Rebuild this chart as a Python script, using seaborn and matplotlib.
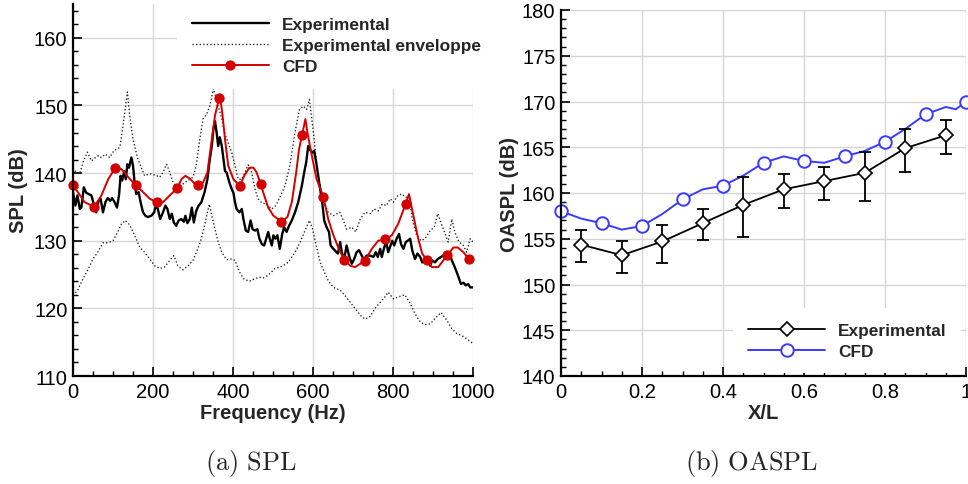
import numpy as np
import pandas as pd
import seaborn as sns
import matplotlib
matplotlib.use("Agg")
import matplotlib.pyplot as plt
from matplotlib.lines import Line2D
from matplotlib.ticker import MultipleLocator

# ---------------- data: (a) SPL spectrum ----------------
exp_freq = [0, 6, 11, 17, 21, 27, 33, 39, 46, 53, 58, 64, 69, 75, 81, 87, 93, 98, 104, 110,
            115, 119, 123, 128, 132, 136, 140, 146, 150, 154, 158, 164, 169, 175, 181, 187, 196, 203, 208, 212,
            218, 225, 231, 236, 242, 247, 252, 258, 264, 271, 277, 281, 286, 292, 297, 302, 308, 314, 321, 329,
            336, 341, 347, 351, 355, 359, 363, 367, 372, 376, 380, 384, 391, 397, 401, 405, 409, 416, 422, 426,
            432, 438, 444, 449, 455, 461, 466, 472, 478, 483, 488, 492, 497, 501, 506, 511, 517, 523, 528, 534,
            540, 547, 555, 563, 572, 578, 583, 588, 592, 598, 603, 608, 613, 619, 624, 628, 634, 640, 644, 651,
            659, 662, 668, 672, 678, 684, 690, 697, 703, 709, 715, 722, 728, 734, 743, 751, 757, 762, 768, 772,
            778, 783, 788, 794, 798, 803, 809, 815, 820, 826, 832, 837, 843, 848, 855, 861, 868, 873, 880, 887,
            893, 898, 905, 912, 920, 926, 932, 937, 943, 947, 953, 959, 965, 970, 976, 982, 988, 993, 1000]
exp_spl = [137.2, 135.2, 136.7, 134.7, 134.9, 137.9, 137.1, 136.9, 136.7, 135.2, 134.2, 135.9, 136.2, 134.2, 135.7, 136.3, 135.9, 136.3, 135.7, 134.9,
           136.7, 139.6, 138.9, 140.3, 139.1, 141.3, 140.8, 142.3, 141.1, 138.6, 136.9, 137.2, 135.7, 134.2, 133.7, 133.5, 133.7, 134.2, 135.4, 134.7,
           133.2, 134.2, 135.2, 134.7, 133.2, 134.0, 132.7, 132.2, 133.0, 133.2, 132.8, 133.7, 132.6, 133.2, 134.9, 132.7, 134.4, 135.2, 135.7, 137.2,
           139.1, 141.6, 144.0, 146.5, 147.7, 146.0, 144.0, 145.3, 144.0, 142.1, 140.3, 140.1, 138.6, 137.6, 137.1, 135.7, 134.7, 134.2, 134.7, 133.2,
           131.5, 131.3, 133.0, 131.7, 131.5, 131.7, 130.3, 129.5, 129.3, 130.3, 131.3, 130.3, 129.3, 130.8, 130.3, 130.8, 128.8, 131.0, 132.0, 131.3,
           132.2, 133.0, 134.2, 135.7, 138.1, 140.1, 141.6, 144.0, 143.5, 143.0, 143.3, 141.6, 139.6, 137.2, 135.2, 133.0, 132.0, 131.3, 129.3, 128.8,
           128.3, 128.1, 129.8, 128.3, 127.3, 129.3, 127.8, 126.6, 127.3, 128.3, 128.6, 127.8, 127.1, 127.8, 127.8, 127.6, 128.3, 127.6, 128.8, 127.6,
           129.0, 129.8, 128.3, 129.3, 130.0, 129.3, 130.3, 131.0, 129.5, 128.8, 129.8, 130.0, 130.3, 128.6, 127.3, 128.1, 127.6, 126.8, 126.9, 127.3,
           126.3, 127.1, 126.8, 127.3, 127.6, 127.8, 127.3, 128.3, 127.8, 127.1, 126.3, 125.4, 124.4, 123.6, 123.8, 123.4, 123.6, 123.1, 123.1]

env_hi_freq = [0, 8, 17, 25, 36, 46, 54, 64, 71, 81, 92, 102, 117, 125, 136, 141, 150, 162, 179, 192,
               206, 217, 225, 234, 242, 250, 262, 275, 287, 300, 308, 317, 325, 334, 342, 351, 363, 372, 380, 388,
               397, 405, 413, 422, 430, 438, 447, 455, 463, 472, 484, 497, 507, 517, 530, 542, 555, 566, 576, 584,
               591, 597, 603, 609, 618, 626, 638, 651, 667, 676, 684, 697, 707, 718, 730, 743, 753, 763, 773, 784,
               793, 801, 812, 822, 832, 840, 848, 859, 870, 880, 893, 903, 912, 922, 932, 938, 947, 955, 965, 976,
               984, 993, 1000]
env_hi_spl = [140.8, 140.1, 139.9, 141.6, 143.1, 141.8, 142.2, 142.6, 142.3, 142.8, 142.3, 143.3, 143.8, 147.0, 152.0, 148.9, 145.0, 142.1, 139.6, 139.9,
              139.7, 139.4, 140.1, 141.3, 140.1, 138.6, 137.9, 138.4, 138.9, 139.4, 141.1, 145.0, 148.0, 148.7, 149.9, 152.5, 149.9, 148.0, 145.7, 144.5,
              143.0, 141.1, 139.1, 139.1, 140.1, 141.2, 140.1, 137.6, 136.2, 135.6, 135.4, 134.7, 135.2, 136.4, 138.1, 141.1, 146.0, 149.4, 149.9, 149.4,
              150.9, 148.0, 145.0, 141.1, 138.1, 135.7, 134.2, 133.7, 134.2, 133.0, 131.7, 132.0, 131.3, 133.2, 134.2, 134.0, 134.7, 134.4, 135.4, 135.2,
              136.2, 135.7, 136.7, 136.9, 136.4, 136.7, 133.2, 130.8, 130.0, 130.3, 131.5, 132.0, 134.0, 132.3, 130.8, 129.8, 133.2, 131.2, 129.8, 129.3,
              128.3, 130.3, 129.8]

env_lo_freq = [0, 12, 25, 38, 50, 62, 75, 88, 100, 112, 121, 131, 142, 154, 167, 179, 192, 204, 217, 229,
               242, 252, 262, 275, 288, 300, 312, 321, 329, 336, 341, 347, 355, 363, 372, 384, 397, 405, 416, 426,
               441, 455, 466, 476, 488, 505, 522, 538, 555, 568, 580, 591, 599, 608, 618, 628, 638, 651, 668, 680,
               693, 705, 718, 730, 743, 755, 768, 780, 788, 801, 813, 830, 843, 855, 868, 880, 893, 905, 920, 934,
               947, 959, 972, 984, 1000]
env_lo_spl = [121.9, 122.7, 124.4, 125.8, 127.3, 128.3, 129.7, 129.7, 130.0, 131.3, 132.5, 133.0, 132.3, 130.8, 129.0, 128.3, 127.3, 126.3, 125.9, 126.1,
              127.1, 127.8, 126.3, 125.7, 126.3, 127.1, 128.8, 130.3, 132.3, 134.2, 135.4, 133.7, 131.7, 129.8, 128.3, 127.2, 127.3, 127.1, 125.4, 124.4,
              124.0, 124.4, 124.6, 124.5, 124.9, 125.9, 126.2, 126.8, 128.3, 129.8, 131.5, 133.0, 131.7, 129.3, 126.8, 125.4, 124.1, 123.1, 122.7, 121.9,
              120.9, 120.0, 119.0, 118.4, 118.8, 120.0, 120.9, 121.7, 122.4, 121.4, 121.7, 122.0, 120.7, 119.2, 118.0, 117.6, 117.7, 118.5, 119.4, 118.3,
              117.0, 116.3, 116.0, 115.5, 114.8]

cfd_freq = [0, 12, 29, 53, 71, 88, 105, 121, 138, 157, 175, 192, 209, 225, 242, 261, 271, 281, 292, 303,
            312, 325, 336, 347, 355, 365, 369, 374, 380, 388, 401, 417, 428, 441, 451, 459, 469, 478, 488, 501,
            521, 536, 547, 558, 565, 573, 581, 586, 597, 609, 626, 638, 651, 666, 678, 693, 705, 729, 747, 763,
            780, 797, 813, 832, 840, 851, 863, 873, 884, 897, 913, 926, 936, 951, 962, 976, 989, 997]
cfd_spl = [138.2, 137.2, 135.7, 135.0, 136.7, 139.1, 140.7, 140.6, 139.4, 138.2, 137.2, 136.2, 135.7, 135.7, 136.7, 137.8, 139.1, 139.6, 139.2, 138.5,
           138.2, 138.6, 140.1, 145.0, 148.5, 151.05, 150.7, 148.5, 145.0, 141.1, 139.1, 138.1, 139.6, 140.8, 140.8, 140.1, 138.4, 136.7, 134.9, 133.7,
           132.8, 133.5, 135.7, 140.1, 143.5, 145.7, 148.0, 146.0, 142.6, 139.1, 136.5, 133.2, 130.8, 128.6, 127.2, 126.3, 126.1, 127.0, 128.8, 130.0,
           130.2, 130.8, 132.5, 135.5, 136.9, 133.7, 130.3, 128.1, 127.2, 126.1, 126.1, 127.1, 127.85, 129.0, 129.0, 128.3, 127.35, 127.1]

cfd_mark_freq = [0, 53, 105, 157, 209, 261, 312, 365, 417, 469, 521, 573, 626, 678, 729, 780, 832, 884, 936, 989]
cfd_mark_spl = [138.2, 135.0, 140.7, 138.2, 135.7, 137.8, 138.2, 151.05, 138.1, 138.4, 132.8, 145.7, 136.5, 127.2, 127.0, 130.2, 135.5, 127.2, 127.85, 127.35]

# ---------------- data: (b) OASPL ----------------
oa_exp_x = [0.05, 0.15, 0.25, 0.35, 0.45, 0.55, 0.65, 0.75, 0.85, 0.95]
oa_exp = [154.35, 153.2, 154.7, 156.7, 158.7, 160.4, 161.3, 162.2, 164.9, 166.3]
oa_exp_hi = [156.0, 154.8, 156.5, 158.25, 161.7, 162.1, 162.8, 164.5, 167.0, 168.0]
oa_exp_lo = [152.5, 151.3, 152.4, 154.9, 155.2, 158.4, 159.2, 159.1, 162.3, 164.3]

oa_cfd_line_x = [0, 0.05, 0.1, 0.15, 0.2, 0.25, 0.3, 0.35, 0.4, 0.45, 0.5, 0.55, 0.6, 0.65, 0.7,
                 0.75, 0.8, 0.85, 0.9, 0.95, 0.975, 1.0]
oa_cfd_line = [158.0, 157.2, 156.7, 156.0, 156.4, 157.7, 159.3, 160.4, 160.8, 161.9, 163.3, 164.0, 163.5, 163.3, 164.0,
               164.6, 165.6, 167.0, 168.6, 169.4, 169.15, 170.0]
oa_cfd_x = [0, 0.1, 0.2, 0.3, 0.4, 0.5, 0.6, 0.7, 0.8, 0.9, 1.0]
oa_cfd = [158.0, 156.7, 156.4, 159.3, 160.8, 163.3, 163.5, 164.0, 165.6, 168.6, 170.0]

oa_xticks = [0, 0.2, 0.4, 0.6, 0.8, 1.0]
oa_xticklabels = ["0", "0.2", "0.4", "0.6", "0.8", "1"]

# ---------------- styling ----------------
sns.set_theme(style="white")
plt.rcParams["font.family"] = ["Liberation Sans", "DejaVu Sans"]
plt.rcParams["mathtext.fontset"] = "cm"

RED = "#d40000"
BLUE = "#3a3aff"
GRID = "#d6d6d6"
TICK_FS = 14.5
LAB_FS = 14.5
LEG_FS = 12.4

fig = plt.figure(figsize=(9.68, 4.85), dpi=100)
ax1 = fig.add_axes([73 / 968, 1 - 377 / 485, 400 / 968, 372 / 485])
ax2 = fig.add_axes([561 / 968, 1 - 377 / 485, 405 / 968, 366 / 485])


def style_axes(ax):
    ax.set_facecolor("white")
    for s in ["top", "right"]:
        ax.spines[s].set_visible(False)
    for s in ["left", "bottom"]:
        ax.spines[s].set_visible(True)
        ax.spines[s].set_color("black")
        ax.spines[s].set_linewidth(1.6)
        ax.spines[s].set_zorder(5)
    ax.tick_params(which="both", direction="in", left=True, bottom=True, top=False, right=False,
                   colors="black")
    ax.tick_params(which="major", length=6.5, width=1.2, labelsize=TICK_FS, pad=4)
    ax.tick_params(which="minor", length=3.5, width=1.0)
    ax.grid(True, which="major", color=GRID, linewidth=1.0)
    ax.grid(False, which="minor")
    ax.set_axisbelow(True)


# ---- panel (a)
style_axes(ax1)
sns.lineplot(x=env_hi_freq, y=env_hi_spl, ax=ax1, color="#1a1a1a", linewidth=0.95,
             linestyle=(0, (1, 1.7)), sort=False, estimator=None, legend=False)
sns.lineplot(x=env_lo_freq, y=env_lo_spl, ax=ax1, color="#1a1a1a", linewidth=0.95,
             linestyle=(0, (1, 1.7)), sort=False, estimator=None, legend=False)
sns.lineplot(x=exp_freq, y=exp_spl, ax=ax1, color="black", linewidth=1.7,
             sort=False, estimator=None, legend=False)
sns.lineplot(x=cfd_freq, y=cfd_spl, ax=ax1, color=RED, linewidth=1.4,
             sort=False, estimator=None, legend=False)
ax1.plot(cfd_mark_freq, cfd_mark_spl, linestyle="none", marker="o", markersize=6.4,
         color=RED, markeredgecolor=RED, clip_on=False, zorder=4)

ax1.set_xlim(0, 1000)
ax1.set_ylim(110, 165)
ax1.xaxis.set_major_locator(MultipleLocator(200))
ax1.xaxis.set_minor_locator(MultipleLocator(50))
ax1.yaxis.set_major_locator(MultipleLocator(10))
ax1.yaxis.set_minor_locator(MultipleLocator(2))
ax1.set_xlabel("Frequency (Hz)", fontsize=LAB_FS, fontweight="bold", labelpad=2)
ax1.set_ylabel("SPL (dB)", fontsize=LAB_FS, fontweight="bold", labelpad=4)

h1 = [Line2D([], [], color="black", lw=1.7),
      Line2D([], [], color="#1a1a1a", lw=0.95, ls=(0, (1, 1.7))),
      Line2D([], [], color=RED, lw=1.4, marker="o", markersize=6.4)]
leg1 = ax1.legend(h1, ["Experimental", "Experimental enveloppe", "CFD"], loc="upper left",
                  bbox_to_anchor=(0.26, 1.004), frameon=True, facecolor="white", edgecolor="none",
                  framealpha=1, fancybox=False, borderpad=0.85, handlelength=4.5,
                  handletextpad=0.75, labelspacing=0.35, borderaxespad=0,
                  prop={"weight": "bold", "size": LEG_FS})
leg1.set_zorder(10)

# ---- panel (b)
style_axes(ax2)
yerr = [np.array(oa_exp) - np.array(oa_exp_lo), np.array(oa_exp_hi) - np.array(oa_exp)]
ax2.errorbar(oa_exp_x, oa_exp, yerr=yerr, fmt="none", ecolor="black", elinewidth=1.3,
             capsize=4.2, capthick=1.3, zorder=3)
sns.lineplot(x=oa_exp_x, y=oa_exp, ax=ax2, color="black", linewidth=1.3,
             sort=False, estimator=None, legend=False)
ax2.plot(oa_exp_x, oa_exp, linestyle="none", marker="D", markersize=7, markerfacecolor="white",
         markeredgecolor="black", markeredgewidth=1.2, zorder=4)
sns.lineplot(x=oa_cfd_line_x, y=oa_cfd_line, ax=ax2, color=BLUE, linewidth=1.4,
             sort=False, estimator=None, legend=False)
ax2.plot(oa_cfd_x, oa_cfd, linestyle="none", marker="o", markersize=9, markerfacecolor="white",
         markeredgecolor=BLUE, markeredgewidth=1.4, clip_on=False, zorder=4)

ax2.set_xlim(0, 1)
ax2.set_ylim(140, 180)
ax2.set_xticks(oa_xticks)
ax2.set_xticklabels(oa_xticklabels)
ax2.xaxis.set_minor_locator(MultipleLocator(0.05))
ax2.yaxis.set_major_locator(MultipleLocator(5))
ax2.yaxis.set_minor_locator(MultipleLocator(1))
ax2.set_xlabel("X/L", fontsize=LAB_FS, fontweight="bold", labelpad=2)
ax2.set_ylabel("OASPL (dB)", fontsize=LAB_FS, fontweight="bold", labelpad=2)

h2 = [Line2D([], [], color="black", lw=1.3, marker="D", markersize=7, markerfacecolor="white",
             markeredgecolor="black", markeredgewidth=1.2),
      Line2D([], [], color=BLUE, lw=1.4, marker="o", markersize=9, markerfacecolor="white",
             markeredgecolor=BLUE, markeredgewidth=1.4)]
leg2 = ax2.legend(h2, ["Experimental", "CFD"], loc="upper left", bbox_to_anchor=(0.425, 0.186),
                  frameon=True, facecolor="white", edgecolor="none", framealpha=1, fancybox=False,
                  borderpad=0.85, handlelength=4.5, handletextpad=0.75, labelspacing=0.35,
                  borderaxespad=0, prop={"weight": "bold", "size": LEG_FS})
leg2.set_zorder(10)

# ---- captions
fig.text(251 / 968, 1 - 464 / 485, r"$\mathrm{(a)\ SPL}$", ha="center", va="center", fontsize=19)
fig.text(752 / 968, 1 - 464 / 485, r"$\mathrm{(b)\ OASPL}$", ha="center", va="center", fontsize=19)

fig.savefig("out.png", dpi=100, facecolor="white")
